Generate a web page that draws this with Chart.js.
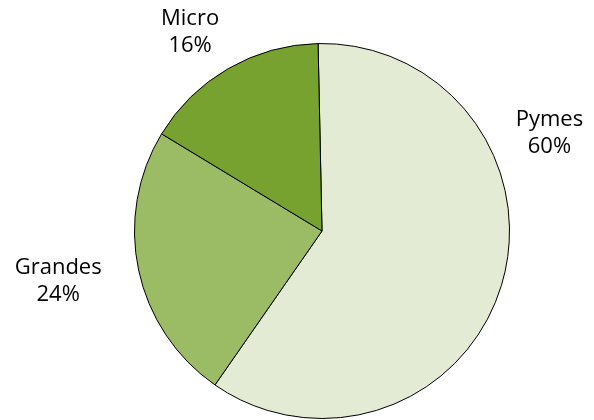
<!DOCTYPE html>
<html>
<head>
<meta charset="utf-8">
<script src="https://cdn.jsdelivr.net/npm/chart.js@4"></script>
<style>
html,body{margin:0;padding:0;background:#fff;}
#wrap{width:594px;height:420px;position:relative;}
</style>
</head>
<body>
<div id="wrap"><canvas id="c" width="594" height="420"></canvas></div>
<script>
const categories = ["Pymes", "Grandes", "Micro"];
const values = [60, 24, 16];
const colors = ["#E3EBD5", "#9BBB65", "#77A22F"];
// label anchor positions as fraction of canvas (x, y of text block centre)
const labelPos = [[0.925, 0.319], [0.098, 0.671], [0.32, 0.079]];

const labelPlugin = {
  id: 'sliceLabels',
  afterDraw(chart) {
    const ctx = chart.ctx;
    const total = values.reduce((a, b) => a + b, 0);
    ctx.save();
    ctx.fillStyle = '#000';
    ctx.font = '22px "Open Sans", sans-serif';
    ctx.textAlign = 'center';
    ctx.textBaseline = 'middle';
    categories.forEach((cat, i) => {
      const x = labelPos[i][0] * chart.width;
      const y = labelPos[i][1] * chart.height;
      const pct = Math.round(values[i] / total * 100) + '%';
      ctx.fillText(cat, x, y - 14);
      ctx.fillText(pct, x, y + 13);
    });
    ctx.restore();
  }
};

new Chart(document.getElementById('c'), {
  type: 'pie',
  data: {
    labels: categories,
    datasets: [{
      data: values,
      backgroundColor: colors,
      borderColor: '#000',
      borderWidth: 1,
      borderAlign: 'center'
    }]
  },
  options: {
    responsive: false,
    animation: false,
    rotation: -1.2,
    layout: { padding: { top: 43, bottom: 1, left: 134, right: 84 } },
    plugins: {
      legend: { display: false },
      tooltip: { enabled: false }
    }
  },
  plugins: [labelPlugin]
});
</script>
</body>
</html>
